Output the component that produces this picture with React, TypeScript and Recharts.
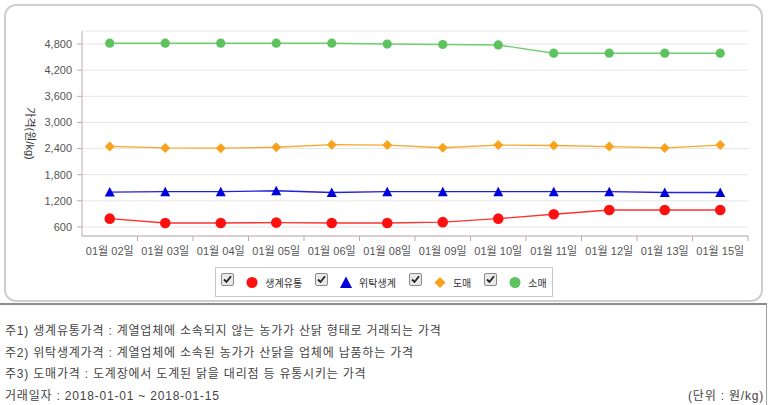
import React from 'react'
import { CartesianGrid, Line, LineChart, XAxis, YAxis } from 'recharts'

const DATES = ['01월 02일', '01월 03일', '01월 04일', '01월 05일', '01월 06일', '01월 08일', '01월 09일', '01월 10일', '01월 11일', '01월 12일', '01월 13일', '01월 15일']
const LIVE_MARKET = [790, 690, 690, 700, 690, 690, 710, 790, 890, 990, 990, 990]
const LIVE_CONTRACT = [1400, 1410, 1410, 1430, 1390, 1410, 1410, 1410, 1410, 1410, 1390, 1390]
const WHOLESALE = [2450, 2415, 2410, 2430, 2490, 2480, 2420, 2480, 2470, 2445, 2415, 2480]
const RETAIL = [4820, 4820, 4820, 4820, 4820, 4800, 4790, 4780, 4590, 4590, 4590, 4590]
const Y_TICKS = [600, 1200, 1800, 2400, 3000, 3600, 4200, 4800]

const NOTES = [
  '주1) 생계유통가격 : 계열업체에 소속되지 않는 농가가 산닭 형태로 거래되는 가격',
  '주2) 위탁생계가격 : 계열업체에 소속된 농가가 산닭을 업체에 납품하는 가격',
  '주3) 도매가격 : 도계장에서 도계된 닭을 대리점 등 유통시키는 가격',
]
const PERIOD = '거래일자 : 2018-01-01 ~ 2018-01-15'
const UNIT = '(단위 : 원/kg)'

const data = DATES.map((d, i) => ({
  date: d,
  live: LIVE_MARKET[i],
  contract: LIVE_CONTRACT[i],
  wholesale: WHOLESALE[i],
  retail: RETAIL[i],
}))

const SERIES = [
  { key: 'live', name: '생계유통', color: '#ff1010', line: '#ff3030', shape: 'circle', r: 5.3 },
  { key: 'contract', name: '위탁생계', color: '#0000dd', line: '#2020e0', shape: 'triangle', r: 5 },
  { key: 'wholesale', name: '도매', color: '#f9a21c', line: '#f7a830', shape: 'diamond', r: 5 },
  { key: 'retail', name: '소매', color: '#5ec25e', line: '#72cc72', shape: 'circle', r: 4.6 },
]

const W = 768
const CHART_H = 300
const M = { top: 31, right: 20, bottom: 34, left: 20 }
const Y_W = 62
const X_H = 30
const PLOT_W = W - M.left - M.right - Y_W
const HALF_BAND = PLOT_W / DATES.length / 2
const AXIS_COLOR = '#c2a8ae'
const FONT = "'Liberation Sans', 'Noto Sans CJK KR', sans-serif"

function Marker({ shape, cx, cy, r, color }: any) {
  if (shape === 'triangle') {
    return <polygon points={`${cx},${cy - r} ${cx + r},${cy + r * 0.9} ${cx - r},${cy + r * 0.9}`} fill={color} />
  }
  if (shape === 'diamond') {
    return <polygon points={`${cx},${cy - r} ${cx + r},${cy} ${cx},${cy + r} ${cx - r},${cy}`} fill={color} />
  }
  return <circle cx={cx} cy={cy} r={r} fill={color} />
}

function DateTick({ x, y, payload }: any) {
  return (
    <g>
      <line x1={x + HALF_BAND} y1={y - 11} x2={x + HALF_BAND} y2={y - 6} stroke={AXIS_COLOR} />
      <text x={x} y={y} dy="0.71em" textAnchor="middle" fontSize={11} fill="#555" fontFamily={FONT}>
        {payload.value}
      </text>
    </g>
  )
}

function YTitle({ viewBox }: any) {
  const cx = viewBox.x + 10
  const cy = viewBox.y + viewBox.height / 2
  return (
    <text x={cx} y={cy} transform={`rotate(90 ${cx} ${cy})`} textAnchor="middle" dominantBaseline="central" fontSize={11} fill="#333" fontFamily={FONT}>
      가격(원/kg)
    </text>
  )
}

function CheckBox() {
  return (
    <svg width={13} height={13} style={{ display: 'block' }}>
      <rect x={0.5} y={0.5} width={12} height={12} rx={1.5} fill="#e9e9e9" stroke="#8a8a8a" />
      <path d="M3 6.5 L5.5 9 L10 3.2" fill="none" stroke="#222" strokeWidth={1.8} />
    </svg>
  )
}

export default function App() {
  return (
    <div style={{ position: 'absolute', left: 0, top: 0, width: W, height: 405, overflow: 'hidden', background: '#fff', fontFamily: FONT }}>
      <div style={{ position: 'absolute', left: 4, top: 4, width: 759, height: 298, boxSizing: 'border-box', border: '2px solid #cfcfcf', borderRadius: 12 }} />
      <div style={{ position: 'absolute', left: 0, top: 0 }}>
        <LineChart width={W} height={CHART_H} data={data} margin={M}>
          <CartesianGrid vertical={false} stroke="#e6e6e6" />
          <XAxis
            dataKey="date"
            height={X_H}
            padding={{ left: HALF_BAND, right: HALF_BAND }}
            stroke={AXIS_COLOR}
            tickLine={false}
            tickSize={5}
            tickMargin={6}
            tick={<DateTick />}
            interval={0}
          />
          <YAxis
            width={Y_W}
            domain={[392, 5100]}
            ticks={Y_TICKS}
            stroke={AXIS_COLOR}
            tickSize={5}
            tickMargin={5}
            tick={{ fontSize: 11, fill: '#555', fontFamily: FONT }}
            tickFormatter={(v: number) => v.toLocaleString('en-US')}
            label={<YTitle />}
          />
          {SERIES.map((s) => (
            <Line
              key={s.key}
              dataKey={s.key}
              name={s.name}
              type="linear"
              stroke={s.line}
              strokeWidth={1.4}
              isAnimationActive={false}
              dot={(p: any) => <Marker key={`${s.key}-${p.index}`} shape={s.shape} cx={p.cx} cy={p.cy} r={s.r} color={s.color} />}
              activeDot={false}
            />
          ))}
        </LineChart>
      </div>
      <div style={{ position: 'absolute', left: 215, top: 267, width: 338, height: 30, boxSizing: 'border-box', border: '1px solid #c8c8c8', display: 'flex', alignItems: 'center', justifyContent: 'center', gap: 13 }}>
        {SERIES.map((s) => (
          <div key={s.key} style={{ display: 'flex', alignItems: 'center' }}>
            <div style={{ marginTop: -6 }}><CheckBox /></div>
            <svg width={14} height={14} style={{ marginLeft: 11, display: 'block' }}>
              <Marker shape={s.shape} cx={7} cy={7.5} r={s.shape === 'triangle' ? 6 : 5.5} color={s.color} />
            </svg>
            <span style={{ marginLeft: 6, fontSize: 10, color: '#333' }}>{s.name}</span>
          </div>
        ))}
      </div>
      <div style={{ position: 'absolute', left: -2, top: 303, width: 769, height: 110, boxSizing: 'border-box', borderTop: '2px solid #8c8c8c', borderRight: '1px solid #a0a0a0' }} />
      {NOTES.concat([PERIOD]).map((t, i) => (
        <div key={i} style={{ position: 'absolute', left: 5, top: 323 + i * 21.7, height: 16, lineHeight: '16px', fontSize: 12, letterSpacing: 0.8, color: '#444', whiteSpace: 'nowrap' }}>
          {t}
        </div>
      ))}
      <div style={{ position: 'absolute', right: 4, top: 323 + 3 * 21.7, height: 16, lineHeight: '16px', fontSize: 12, letterSpacing: 0.8, color: '#444', whiteSpace: 'nowrap' }}>{UNIT}</div>
    </div>
  )
}
